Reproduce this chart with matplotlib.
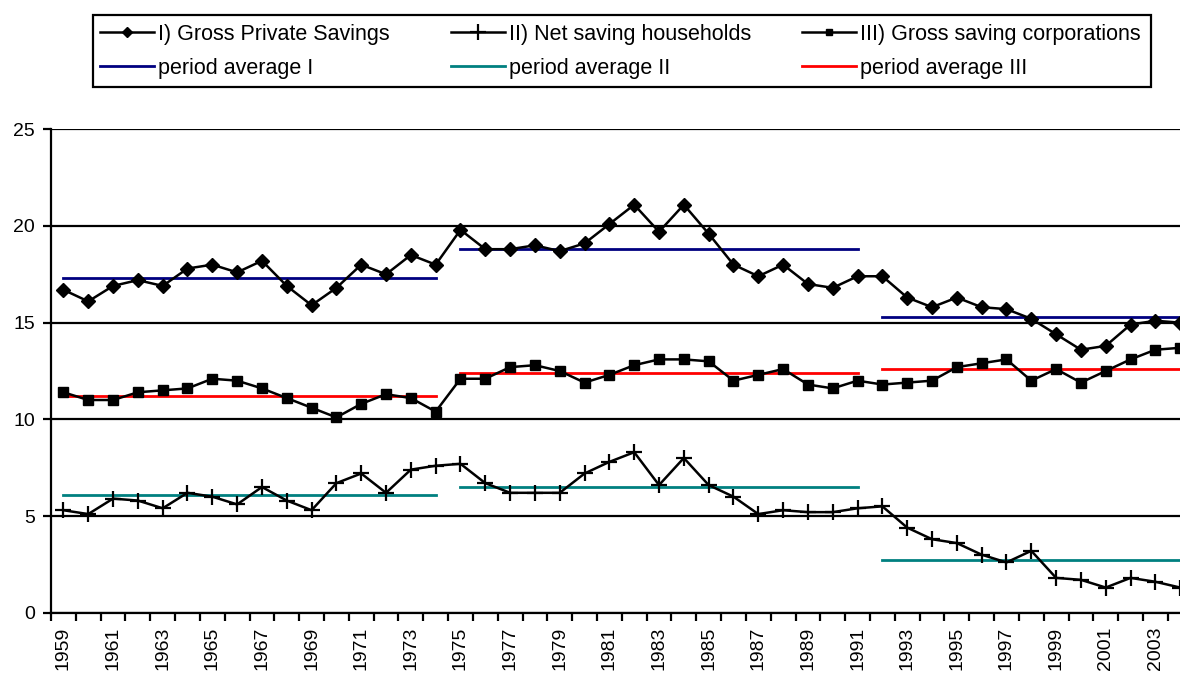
import matplotlib
matplotlib.use('Agg')
import matplotlib.pyplot as plt
import matplotlib.lines as mlines
from matplotlib.patches import Rectangle
from matplotlib.ticker import FixedLocator

plt.rcParams['font.family'] = ['Liberation Sans', 'DejaVu Sans']

years = list(range(1959, 2005))

# I) Gross Private Savings
gross_private = [16.7, 16.1, 16.9, 17.2, 16.9, 17.8, 18.0, 17.6, 18.2, 16.9,
                 15.9, 16.8, 18.0, 17.5, 18.5, 18.0, 19.8, 18.8, 18.8, 19.0,
                 18.7, 19.1, 20.1, 21.1, 19.7, 21.1, 19.6, 18.0, 17.4, 18.0,
                 17.0, 16.8, 17.4, 17.4, 16.3, 15.8, 16.3, 15.8, 15.7, 15.2,
                 14.4, 13.6, 13.8, 14.9, 15.1, 15.0]

# II) Net saving households
net_households = [5.3, 5.1, 5.9, 5.8, 5.4, 6.2, 6.0, 5.6, 6.5, 5.8,
                  5.3, 6.7, 7.2, 6.2, 7.4, 7.6, 7.7, 6.7, 6.2, 6.2,
                  6.2, 7.2, 7.8, 8.3, 6.6, 8.0, 6.6, 6.0, 5.1, 5.3,
                  5.2, 5.2, 5.4, 5.5, 4.4, 3.8, 3.6, 3.0, 2.6, 3.2,
                  1.8, 1.7, 1.3, 1.8, 1.6, 1.3]

# III) Gross saving corporations
gross_corp = [11.4, 11.0, 11.0, 11.4, 11.5, 11.6, 12.1, 12.0, 11.6, 11.1,
              10.6, 10.1, 10.8, 11.3, 11.1, 10.4, 12.1, 12.1, 12.7, 12.8,
              12.5, 11.9, 12.3, 12.8, 13.1, 13.1, 13.0, 12.0, 12.3, 12.6,
              11.8, 11.6, 12.0, 11.8, 11.9, 12.0, 12.7, 12.9, 13.1, 12.0,
              12.6, 11.9, 12.5, 13.1, 13.6, 13.7]

# periods (first year, last year) and their averages
periods = [(1959, 1974), (1975, 1991), (1992, 2004)]
avg_I = [17.3, 18.8, 15.3]
avg_II = [6.1, 6.5, 2.7]
avg_III = [11.2, 12.4, 12.6]

W, H = 1180, 673
fig = plt.figure(figsize=(W / 100, H / 100), dpi=100)
# plot area runs a bit past the right edge, like the original
ax = fig.add_axes([51 / W, 60.3 / H, 1141.6 / W, 483.4 / H])

x = list(range(len(years)))

ax.set_ylim(0, 25)
ax.set_xlim(-0.5, len(years) - 0.5)
ax.set_yticks([0, 5, 10, 15, 20, 25])
ax.yaxis.grid(True, color='black', linewidth=1.6)
ax.set_axisbelow(True)

# period averages
for (y0, y1), a1, a2, a3 in zip(periods, avg_I, avg_II, avg_III):
    i0, i1 = years.index(y0), years.index(y1)
    ax.plot([i0, i1], [a1, a1], color='#000080', linewidth=2, zorder=3)
    ax.plot([i0, i1], [a2, a2], color='#008080', linewidth=2, zorder=3)
    ax.plot([i0, i1], [a3, a3], color='#ff0000', linewidth=2, zorder=3)

ax.plot(x, gross_private, color='black', linewidth=1.8, marker='D',
        markersize=7.5, zorder=4, clip_on=False)
ax.plot(x, net_households, color='black', linewidth=1.8, marker='+',
        markersize=11, markeredgewidth=1.6, zorder=4)
ax.plot(x, gross_corp, color='black', linewidth=1.8, marker='s',
        markersize=7.5, zorder=4)

# x axis: labels every other year, tick marks between categories
ax.set_xticks(x[::2])
ax.set_xticklabels([str(y) for y in years[::2]], rotation=90, fontsize=14)
ax.tick_params(axis='x', which='major', length=0, pad=10)
ax.xaxis.set_minor_locator(FixedLocator([i - 0.5 for i in range(len(years) + 1)]))
ax.tick_params(axis='x', which='minor', length=5.5, width=1.6, direction='out')
ax.tick_params(axis='y', length=5.5, width=1.6, labelsize=14, pad=6)

for s in ['top', 'right']:
    ax.spines[s].set_visible(False)
ax.spines['left'].set_linewidth(1.6)
ax.spines['bottom'].set_linewidth(1.6)

# legend: three equal columns inside one box
cols = [
    (mlines.Line2D([], [], color='black', linewidth=1.8, marker='D', markersize=5),
     'I) Gross Private Savings', '#000080', 'period average I'),
    (mlines.Line2D([], [], color='black', linewidth=1.8, marker='+', markersize=11,
                   markeredgewidth=1.6),
     'II) Net saving households', '#008080', 'period average II'),
    (mlines.Line2D([], [], color='black', linewidth=1.8, marker='s', markersize=5),
     'III) Gross saving corporations', '#ff0000', 'period average III'),
]
col_x = [100, 451, 802]
for cx, (mh, lab, c, alab) in zip(col_x, cols):
    ah = mlines.Line2D([], [], color=c, linewidth=2)
    fig.legend([mh, ah], [lab, alab], loc='upper left',
               bbox_to_anchor=(cx / W, 1 - 24 / H), fontsize=15.5,
               frameon=False, handlelength=2.5, handletextpad=0.2,
               borderpad=0, borderaxespad=0, labelspacing=0.6)

fig.add_artist(Rectangle((92.7 / W, 1 - 87 / H), (1151 - 92.7) / W, 72 / H,
                         transform=fig.transFigure, fill=False,
                         edgecolor='black', linewidth=1.6))

fig.savefig('out.png', dpi=100)
